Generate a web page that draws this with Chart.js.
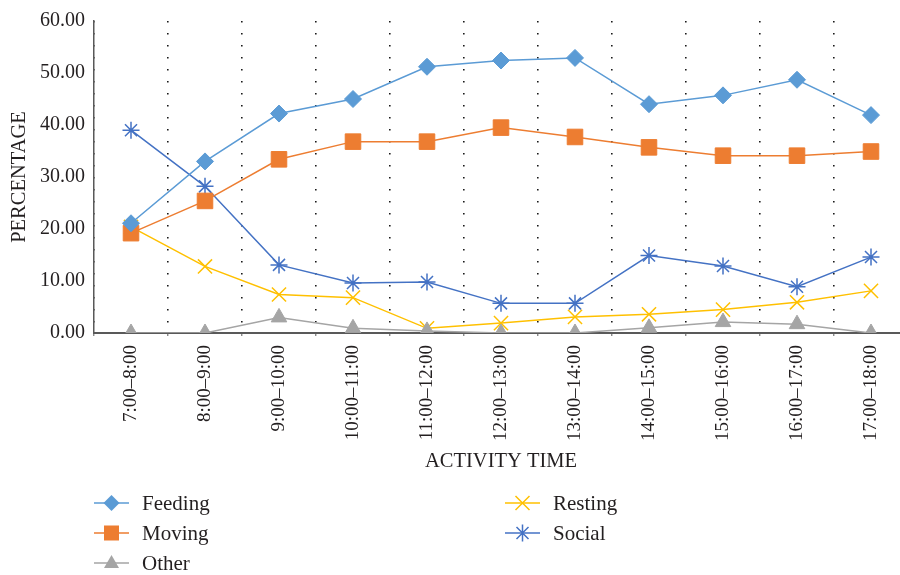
<!DOCTYPE html>
<html>
<head>
<meta charset="utf-8">
<script src="https://cdn.jsdelivr.net/npm/chart.js@4/dist/chart.umd.min.js"></script>
<style>
  html, body { margin: 0; padding: 0; background: #fff; overflow: hidden; width: 900px; height: 575px; }
  #wrap { position: absolute; left: 0; top: 0; width: 920px; height: 485px; }
  #legend { position: absolute; left: 0; top: 0; width: 900px; height: 575px; pointer-events: none;
            font-family: "Liberation Serif", "Times New Roman", serif; font-size: 21px; color: #231f20; }
  .item { position: absolute; height: 24px; display: flex; align-items: center; }
  .item svg { margin-right: 13px; }
</style>
</head>
<body>
<div id="wrap"><canvas id="c" width="920" height="485"></canvas></div>
<div id="legend"></div>
<script>
const categories = ['7:00–8:00','8:00–9:00','9:00–10:00','10:00–11:00','11:00–12:00','12:00–13:00','13:00–14:00','14:00–15:00','15:00–16:00','16:00–17:00','17:00–18:00'];
const feeding = [21.1, 33.0, 42.2, 45.0, 51.2, 52.4, 52.9, 44.0, 45.7, 48.7, 41.9];
const moving  = [19.2, 25.4, 33.4, 36.8, 36.8, 39.5, 37.7, 35.7, 34.1, 34.1, 34.9];
const other   = [0.0, 0.0, 3.0, 0.9, 0.4, 0.0, 0.0, 1.0, 2.1, 1.7, 0.0];
const resting = [20.4, 12.8, 7.4, 6.8, 0.9, 1.9, 3.1, 3.6, 4.5, 5.9, 8.1];
const social  = [39.0, 28.2, 13.1, 9.6, 9.8, 5.7, 5.7, 14.9, 12.9, 8.9, 14.6];
const yTicks  = [0, 10, 20, 30, 40, 50, 60];

const FONT = '"Liberation Serif", "Times New Roman", serif';
const C = { feeding: '#5B9BD5', moving: '#ED7D31', other: '#A5A5A5', resting: '#FFC000', social: '#4472C4' };

function ds(label, data, color, style, radius, bw) {
  return {
    label, data,
    borderColor: color, backgroundColor: color,
    pointBackgroundColor: color, pointBorderColor: color,
    pointStyle: style, pointRadius: radius, pointHoverRadius: radius,
    pointBorderWidth: bw, borderWidth: 1.5, tension: 0
  };
}

const chart = new Chart(document.getElementById('c'), {
  type: 'line',
  data: {
    labels: categories,
    datasets: [
      ds('Feeding', feeding, C.feeding, 'rectRot', 8.5, 1),
      ds('Moving', moving, C.moving, 'rect', 11, 1),
      ds('Other', other, C.other, 'triangle', 9, 1),
      ds('Resting', resting, C.resting, 'crossRot', 10, 1.5),
      ds('Social', social, C.social, 'star', 8.5, 1.5)
    ]
  },
  options: {
    responsive: false,
    animation: false,
    events: [],
    layout: { padding: { top: 20, right: 8, bottom: 0, left: 0 } },
    plugins: { legend: { display: false }, tooltip: { enabled: false } },
    scales: {
      x: {
        type: 'category',
        offset: true,
        grid: {
          display: true, offset: true, drawOnChartArea: true, drawTicks: true,
          color: '#1a1a1a', lineWidth: 1.6,
          tickLength: 3, tickColor: '#595959', tickBorderDash: [], tickWidth: 1
        },
        border: { display: true, color: '#595959', width: 2, dash: [1.6, 10.4] },
        ticks: {
          minRotation: 90, maxRotation: 90, autoSkip: false, padding: 9,
          color: '#231f20', font: { family: FONT, size: 19 }
        },
        title: {
          display: true, text: 'ACTIVITY TIME', color: '#231f20',
          font: { family: FONT, size: 20.5 }, padding: { top: 0, bottom: 11 }
        },
        afterFit: (s) => { s.height = 152; }
      },
      y: {
        min: 0, max: 60,
        afterBuildTicks: (s) => { s.ticks = yTicks.map(v => ({ value: v })); },
        grid: { display: false, drawTicks: false },
        border: { display: true, color: '#595959', width: 1.5 },
        ticks: {
          padding: 9, color: '#231f20', font: { family: FONT, size: 20 },
          callback: (v) => Number(v).toFixed(2)
        },
        title: {
          display: true, text: 'PERCENTAGE', color: '#231f20',
          font: { family: FONT, size: 20.5 }, padding: { top: 7, bottom: 0 }
        },
        afterFit: (s) => { s.width = 94; }
      }
    }
  }
});

// HTML legend (column-major, like the reference)
const legendItems = [
  { label: 'Feeding', color: C.feeding, marker: 'diamond', x: 94, y: 503 },
  { label: 'Moving', color: C.moving, marker: 'square', x: 94, y: 533 },
  { label: 'Other', color: C.other, marker: 'triangle', x: 94, y: 563 },
  { label: 'Resting', color: C.resting, marker: 'x', x: 505, y: 503 },
  { label: 'Social', color: C.social, marker: 'star', x: 505, y: 533 }
];
function markerSVG(m, c) {
  const cx = 17.5, cy = 12;
  let shape = '';
  if (m === 'diamond') shape = `<polygon points="${cx},${cy-8} ${cx+8},${cy} ${cx},${cy+8} ${cx-8},${cy}" fill="${c}"/>`;
  if (m === 'square') shape = `<rect x="${cx-7.5}" y="${cy-7.5}" width="15" height="15" fill="${c}"/>`;
  if (m === 'triangle') shape = `<polygon points="${cx},${cy-8} ${cx+7.5},${cy+5} ${cx-7.5},${cy+5}" fill="${c}"/>`;
  if (m === 'x') shape = `<path d="M${cx-7},${cy-7}L${cx+7},${cy+7}M${cx-7},${cy+7}L${cx+7},${cy-7}" stroke="${c}" stroke-width="1.5"/>`;
  if (m === 'star') shape = `<path d="M${cx-6},${cy-6}L${cx+6},${cy+6}M${cx-6},${cy+6}L${cx+6},${cy-6}M${cx},${cy-8.5}L${cx},${cy+8.5}" stroke="${c}" stroke-width="1.5"/>`;
  return `<svg width="35" height="24" viewBox="0 0 35 24"><line x1="0" y1="${cy}" x2="35" y2="${cy}" stroke="${c}" stroke-width="1.5"/>${shape}</svg>`;
}
const lg = document.getElementById('legend');
legendItems.forEach(it => {
  const d = document.createElement('div');
  d.className = 'item';
  d.style.left = it.x + 'px';
  d.style.top = (it.y - 12) + 'px';
  d.innerHTML = markerSVG(it.marker, it.color) + '<span>' + it.label + '</span>';
  lg.appendChild(d);
});
</script>
</body>
</html>
